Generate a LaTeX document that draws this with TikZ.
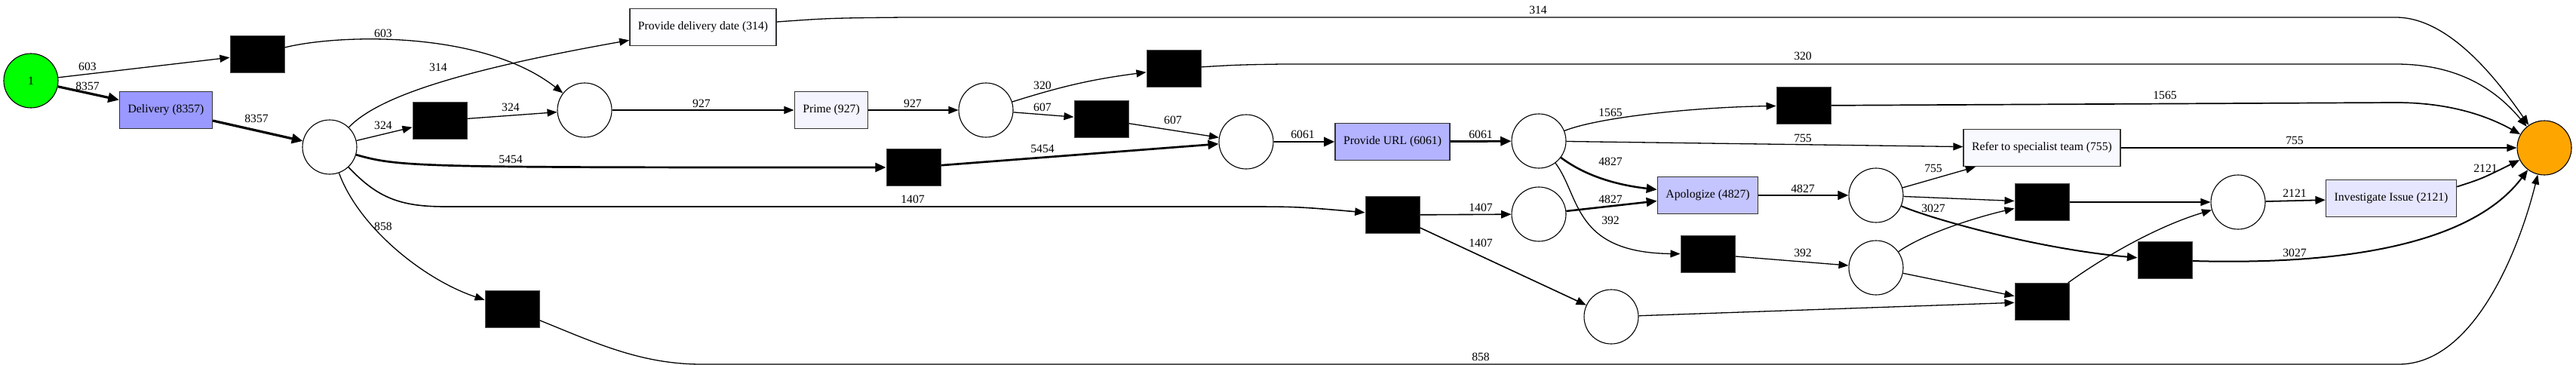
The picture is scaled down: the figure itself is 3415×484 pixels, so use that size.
\documentclass[tikz,border=0pt]{standalone}
\usepackage{fontspec}
\setmainfont{Liberation Serif}
\usetikzlibrary{arrows.meta}
\definecolor{freqA}{RGB}{153,153,255}
\definecolor{freqB}{RGB}{179,179,255}
\definecolor{freqC}{RGB}{196,196,255}
\definecolor{freqD}{RGB}{230,230,255}
\definecolor{freqE}{RGB}{244,244,255}
\definecolor{freqF}{RGB}{248,248,255}
\definecolor{freqG}{RGB}{253,253,255}
\definecolor{startgreen}{RGB}{0,255,0}
\definecolor{endorange}{RGB}{255,165,0}
\begin{document}
\begin{tikzpicture}[x=1pt,y=-1pt,line width=1.3pt,
  font=\fontsize{15.7}{18}\selectfont,
  place/.style={circle,draw,line width=1.1pt,minimum size=72pt,inner sep=0pt},
  tau/.style={rectangle,fill=black,draw=gray!60!black,line width=1pt,
    minimum width=72pt,minimum height=49pt,inner sep=0pt},
  trans/.style={rectangle,draw=gray!40!black,line width=1.5pt,
    minimum height=49pt,inner xsep=11pt},
  lbl/.style={inner sep=0pt},
  flow/.style={-{Triangle[length=12pt 0.8,width=8pt 1.5]}}]
  \useasboundingbox (0,0) rectangle (3415,484);

  % places
  \node[place,fill=startgreen] (src) at (41,107) {1};
  \node[place] (p2) at (437,195) {};
  \node[place] (p3) at (775,146) {};
  \node[place] (p4) at (1307,146) {};
  \node[place] (p5) at (1652,188) {};
  \node[place] (p6) at (2040,187) {};
  \node[place] (p7) at (2040,284) {};
  \node[place] (p8) at (2487,259) {};
  \node[place] (p9) at (2487,355) {};
  \node[place] (p10) at (2136,420) {};
  \node[place] (p11) at (2967,268) {};
  \node[place,fill=endorange] (sink) at (3373,196) {};

  % visible transitions
  \node[trans,fill=freqA] (del) at (220,146) {Delivery (8357)};
  \node[trans,fill=freqG] (pdd) at (932,36) {Provide delivery date (314)};
  \node[trans,fill=freqE] (prime) at (1102,146) {Prime (927)};
  \node[trans,fill=freqB] (url) at (1846,188) {Provide URL (6061)};
  \node[trans,fill=freqC] (apol) at (2264,259) {Apologize (4827)};
  \node[trans,fill=freqF] (refer) at (2707,196) {Refer to specialist team (755)};
  \node[trans,fill=freqD] (inv) at (3170,263) {Investigate Issue (2121)};

  % hidden transitions
  \node[tau] (tau603) at (341,72) {};
  \node[tau] (tau324) at (583,160) {};
  \node[tau] (tau858) at (679,410) {};
  \node[tau] (tau5454) at (1211,222) {};
  \node[tau] (tau607) at (1460,158) {};
  \node[tau] (tau320) at (1556,91) {};
  \node[tau] (tau1407) at (1846,285) {};
  \node[tau] (tau1565) at (2391,140) {};
  \node[tau] (tau392) at (2264,337) {};
  \node[tau] (tauA) at (2707,268) {};
  \node[tau] (tauB) at (2707,400) {};
  \node[tau] (tau3027) at (2870,345) {};

  % arcs
  \draw[flow] (src) -- (tau603);
  \draw[flow,line width=3.2pt] (src) -- (del);
  \draw[flow] (tau603) .. controls (450,45) and (640,40) .. (p3);
  \draw[flow,line width=3.2pt] (del) -- (p2);
  \draw[flow] (p2) .. controls (500,130) and (600,95) .. (pdd);
  \draw[flow] (p2) -- (tau324);
  \draw[flow] (tau324) -- (p3);
  \draw[flow,line width=2.7pt] (p2) .. controls (530,222) and (560,222) .. (tau5454);
  \draw[flow,line width=1.6pt] (p2) .. controls (500,262) and (530,274) .. (590,274)
    -- (1640,274) .. controls (1720,274) .. (tau1407);
  \draw[flow] (p2) .. controls (475,300) and (560,370) .. (tau858);
  \draw[flow] (tau858) .. controls (790,455) and (850,483) .. (930,483) -- (3180,483)
    .. controls (3280,483) and (3340,330) .. (sink);
  \draw[flow] (pdd) .. controls (1100,24) .. (1200,23) -- (3176,23)
    .. controls (3240,23) and (3300,90) .. (sink);
  \draw[flow,line width=1.4pt] (p3) -- (prime);
  \draw[flow,line width=1.4pt] (prime) -- (p4);
  \draw[flow] (p4) to[bend left=5] (tau320);
  \draw[flow] (p4) -- (tau607);
  \draw[flow] (tau607) -- (p5);
  \draw[flow,line width=2.7pt] (tau5454) -- (p5);
  \draw[flow] (tau320) .. controls (1640,86) .. (1700,85) -- (3176,85)
    .. controls (3260,85) and (3310,120) .. (sink);
  \draw[flow,line width=2.8pt] (p5) -- (url);
  \draw[flow,line width=2.8pt] (url) -- (p6);
  \draw[flow] (p6) .. controls (2120,155) and (2250,142) .. (tau1565);
  \draw[flow,line width=1.7pt] (tau1565) -- (3176,136)
    .. controls (3250,136) and (3300,155) .. (sink);
  \draw[flow] (p6) -- (refer);
  \draw[flow] (refer) -- (sink);
  \draw[flow,line width=2.5pt] (p6) .. controls (2100,232) and (2140,245) .. (apol);
  \draw[flow,line width=2.5pt] (p7) -- (apol);
  \draw[flow] (p6) .. controls (2095,260) and (2085,335) .. (tau392);
  \draw[flow,line width=1.6pt] (tau1407) -- (p7);
  \draw[flow,line width=1.6pt] (tau1407) -- (p10);
  \draw[flow,line width=2.5pt] (apol) -- (p8);
  \draw[flow] (tau392) -- (p9);
  \draw[flow] (p10) -- (tauB);
  \draw[flow] (p8) -- (refer);
  \draw[flow] (p8) -- (tauA);
  \draw[flow,line width=2pt] (p8) .. controls (2560,290) and (2700,330) .. (tau3027);
  \draw[flow] (p9) .. controls (2550,310) and (2620,288) .. (tauA);
  \draw[flow] (p9) -- (tauB);
  \draw[flow] (tauA) -- (p11);
  \draw[flow] (tauB) .. controls (2790,340) and (2860,300) .. (p11);
  \draw[flow,line width=1.8pt] (p11) -- (inv);
  \draw[flow,line width=1.8pt] (inv.10) .. controls (3290,237) .. (sink);
  \draw[flow,line width=2pt] (tau3027) .. controls (3120,352) and (3280,320) .. (sink);

  % arc weights
  \foreach \x/\y/\w [count=\i] in {116/88/603, 116/114/8357, 508/44/603, 340/157/8357,
      581/89/314, 508/166/324, 677/142/324, 677/211/5454, 1210/264/1407, 508/300/858,
      1963/473/858, 2039/13/314, 930/137/927, 1210/137/927, 1382/113/320, 1382/142/607,
      1555/159/607, 1382/197/5454, 2390/74/320, 1727/178/6061, 1963/178/6061,
      2135/149/1565, 2870/126/1565, 2390/183/755, 3042/186/755, 2135/214/4827,
      2135/264/4827, 2135/292/392, 1963/275/1407, 1963/322/1407, 2390/250/4827,
      2390/335/392, 2563/223/755, 2563/276/3027, 3042/256/2121, 3295/223/2121,
      3042/335/3027}
    \node[lbl] (w\i) at (\x,\y) {\w};
\end{tikzpicture}
\end{document}
